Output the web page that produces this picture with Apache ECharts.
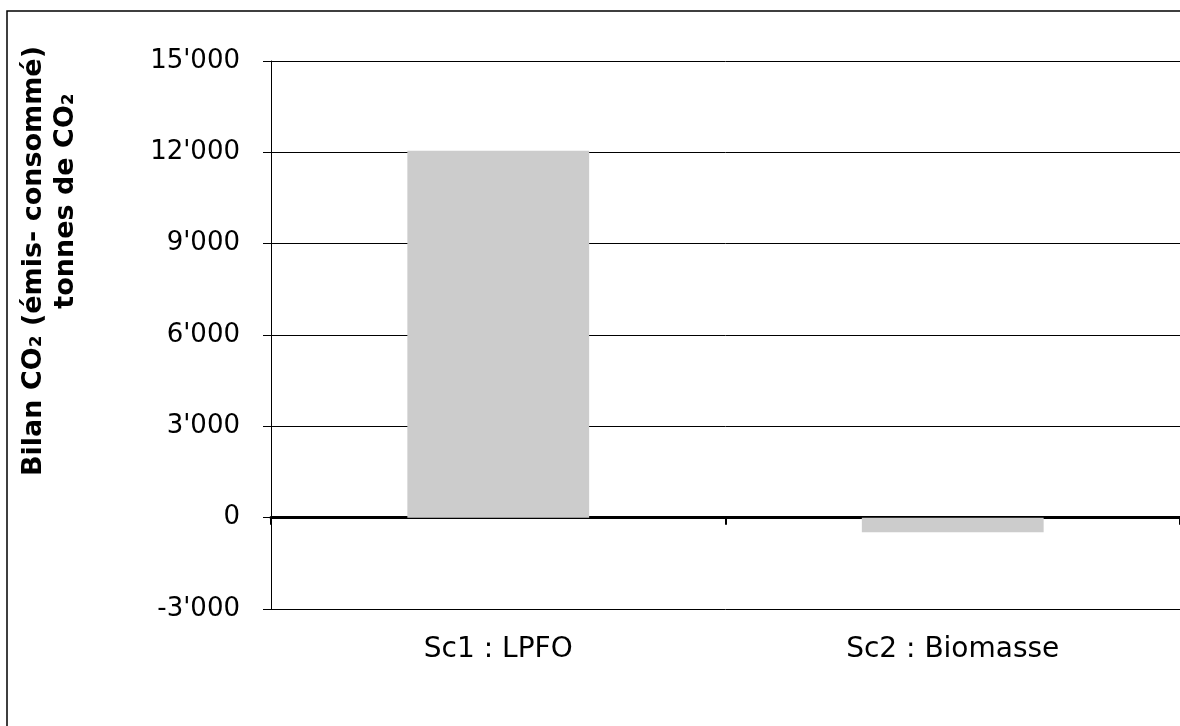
<!DOCTYPE html>
<html>
<head>
<meta charset="utf-8">
<script src="https://cdn.jsdelivr.net/npm/echarts@6/dist/echarts.min.js"></script>
<style>
  html, body { margin: 0; padding: 0; background: #fff; }
  #chart { width: 1180px; height: 726px; }
</style>
</head>
<body>
<div id="chart"></div>
<script>
// Scenarios and their CO2 balance (emitted minus consumed), in tonnes of CO2
const categories = ['Sc1 : LPFO', 'Sc2 : Biomasse'];
const bilanCO2 = [12050, -480];

// Value axis range and step
const yMin = -3000;
const yMax = 15000;
const yStep = 3000;

// Two-line vertical title of the value axis
const titleLine1 = 'Bilan CO₂ (émis- consommé)';
const titleLine2 = 'tonnes de CO₂';

// Swiss-style thousands separator: 15000 -> 15'000
function formatThousands(v) {
  const neg = v < 0;
  const s = String(Math.abs(v)).replace(/\B(?=(\d{3})+(?!\d))/g, "'");
  return (neg ? '-' : '') + s;
}

const FONT = 'DejaVu Sans, Verdana, sans-serif';
const titleStyle = {
  fill: '#000', fontFamily: FONT, fontWeight: 'bold', fontSize: 27,
  align: 'center', verticalAlign: 'middle'
};

const chart = echarts.init(document.getElementById('chart'), null, { renderer: 'canvas' });

chart.setOption({
  backgroundColor: '#ffffff',
  animation: false,
  graphic: [{
    type: 'rect',
    shape: { x: 7, y: 11, width: 1300, height: 900 },
    style: { fill: 'none', stroke: '#000', lineWidth: 1.5 },
    silent: true,
    z: 0
  }, {
    type: 'text',
    x: 34, y: 261, rotation: Math.PI / 2,
    style: Object.assign({ text: titleLine1 }, titleStyle),
    silent: true
  }, {
    type: 'text',
    x: 66, y: 201, rotation: Math.PI / 2,
    style: Object.assign({ text: titleLine2 }, titleStyle),
    silent: true
  }],
  grid: { left: 271, top: 61, right: -5, bottom: 117, containLabel: false },
  xAxis: [{
    // axis drawn along the zero line
    type: 'category',
    data: categories,
    axisLine: { onZero: true, lineStyle: { color: '#000', width: 3 } },
    axisTick: { show: true, length: 7, lineStyle: { color: '#000', width: 2 } },
    axisLabel: { show: false },
    splitLine: { show: false }
  }, {
    // category labels along the bottom of the plot
    type: 'category',
    data: categories,
    position: 'bottom',
    axisLine: { show: false, onZero: false },
    axisTick: { show: false },
    axisLabel: { show: true, color: '#000', fontFamily: FONT, fontSize: 28, margin: 27 },
    splitLine: { show: false }
  }],
  yAxis: {
    type: 'value',
    min: yMin,
    max: yMax,
    interval: yStep,
    axisLine: { show: true, lineStyle: { color: '#000', width: 1 } },
    axisTick: { show: true, length: 8, lineStyle: { color: '#000', width: 1 } },
    axisLabel: {
      color: '#000', fontFamily: FONT, fontSize: 26, margin: 31,
      padding: [8, 0, 0, 0],
      formatter: formatThousands
    },
    splitLine: { show: true, lineStyle: { color: '#000', width: 1 } }
  },
  series: [{
    type: 'bar',
    xAxisIndex: 0,
    data: bilanCO2,
    barCategoryGap: '60%',
    itemStyle: { color: '#cccccc' },
    z: 1
  }]
});
</script>
</body>
</html>
